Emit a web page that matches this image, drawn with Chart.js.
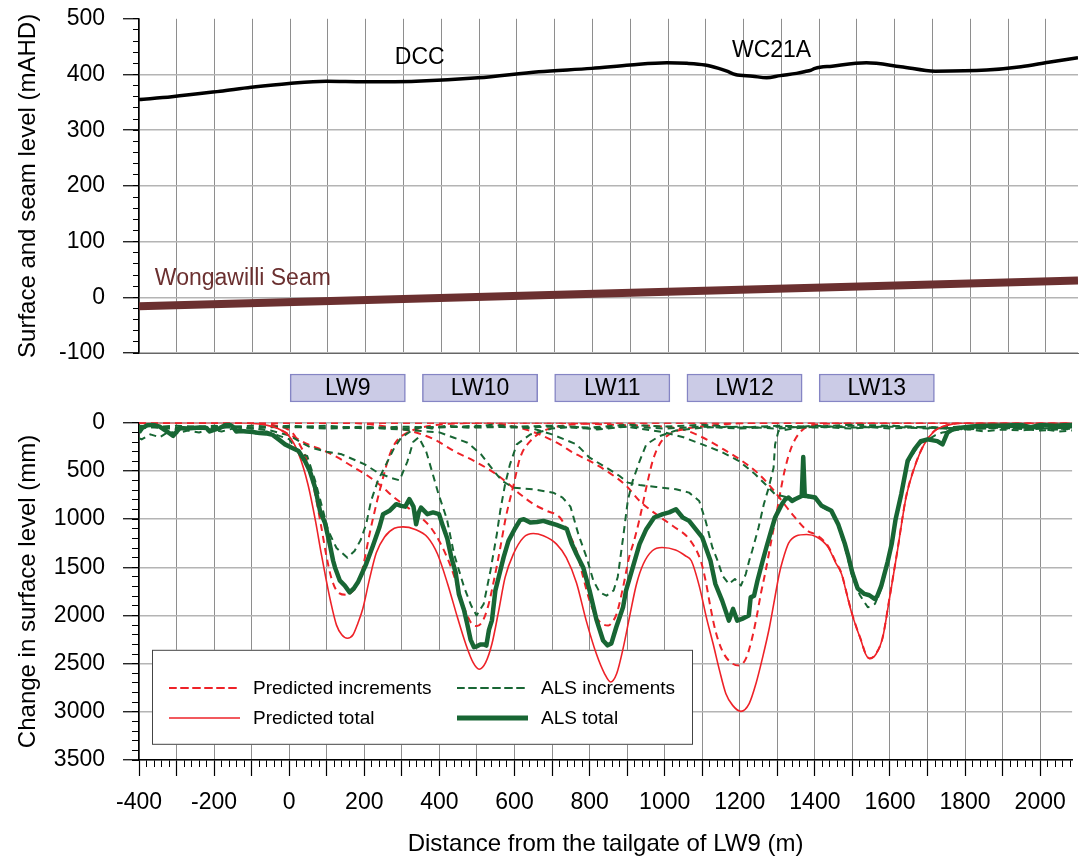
<!DOCTYPE html>
<html>
<head>
<meta charset="utf-8">
<title>Surface levels and subsidence along the LW9 line</title>
<script src="https://cdn.jsdelivr.net/npm/chart.js@4.4.1/dist/chart.umd.min.js"></script>
<style>
  body { margin: 0; background: #fff; }
  #wrap { position: relative; width: 1079px; height: 861px; overflow: hidden;
          font-family: 'Liberation Sans', Arial, Helvetica, sans-serif; }
  #wrap canvas { position: absolute; left: 0; }
  #legend { position: absolute; left: 152px; top: 650px; width: 541px; height: 95px; }
  #legend .item { position: absolute; height: 24px; display: flex; align-items: center;
                  font-size: 19px; color: #000; white-space: nowrap; }
  #legend svg { margin-right: 13px; }
</style>
</head>
<body>
<div id="wrap">
  <canvas id="levels" width="1079" height="398" style="top:-13px"></canvas>
  <canvas id="panels" width="1079" height="56" style="top:360px"></canvas>
  <canvas id="subs" width="1079" height="470" style="top:391px"></canvas>
  <div id="legend"></div>
</div>
<script>
// ---- data (distance m, value) ----
const xRange = [-400, 2085];

// surface and seam levels (mAHD)
const surface = [[-400,355],[-313,360],[-185,370],[-103,377],[-3,384],[96,388],[197,387],[333,388],[497,394],[658,405],[798,411],[900,417],[997,421],[1050,420],[1098,417],[1134,411],[1156,406],[1178,400],[1224,397],[1261,394],[1297,398],[1340,402],[1361,405],[1379,408],[1389,411],[1434,415],[1525,421],[1616,414],[1707,406],[1843,408],[1934,414],[2007,422],[2085,430]];
const seam = [[-400,-16],[2085,30]];

// longwall panels
const lwNames = ['LW9', 'LW10', 'LW11', 'LW12', 'LW13'];
const lwStart = [0, 350, 700, 1050, 1400];
const lwEnd = [305, 655, 1005, 1355, 1705];

// predicted subsidence (mm)
const predTotal = [[-400,0],[-150,0],[-100,5],[-60,25],[-30,60],[0,140],[25,320],[50,640],[70,1018],[85,1350],[97,1600],[110,1850],[126,2100],[140,2200],[155,2236],[170,2200],[183,2080],[196,1930],[214,1620],[232,1350],[254,1185],[280,1095],[303,1080],[334,1104],[369,1190],[395,1362],[422,1673],[448,2019],[470,2294],[490,2490],[506,2558],[523,2490],[540,2294],[558,1949],[575,1604],[597,1362],[624,1190],[650,1149],[677,1173],[712,1259],[738,1400],[765,1660],[791,2053],[818,2398],[840,2605],[856,2690],[872,2605],[890,2329],[908,1983],[925,1673],[943,1466],[967,1328],[993,1294],[1029,1320],[1055,1380],[1071,1432],[1093,1708],[1111,2019],[1129,2294],[1146,2570],[1163,2812],[1181,2933],[1203,2995],[1225,2915],[1243,2708],[1261,2432],[1279,2122],[1292,1846],[1305,1570],[1314,1432],[1330,1250],[1350,1175],[1378,1160],[1405,1185],[1435,1290],[1455,1450],[1471,1570],[1485,1780],[1497,1960],[1510,2120],[1522,2250],[1535,2400],[1546,2449],[1563,2400],[1580,2240],[1598,1840],[1610,1560],[1621,1300],[1632,1020],[1643,770],[1665,466],[1691,224],[1718,86],[1745,34],[1779,6],[1810,0],[2085,0]];
const predLW9 = [[-400,0],[-150,0],[-80,5],[-40,25],[-10,55],[10,110],[30,240],[50,420],[70,760],[85,1070],[100,1400],[113,1620],[130,1760],[152,1785],[175,1720],[190,1600],[198,1470],[214,1155],[232,845],[250,569],[268,327],[286,190],[314,104],[350,52],[404,17],[460,4],[520,0],[2085,0]];
const predLW10 = [[-400,0],[-150,0],[-80,10],[-40,40],[-10,100],[16,155],[51,224],[95,293],[130,362],[166,448],[210,552],[245,655],[280,776],[316,880],[351,983],[377,1087],[404,1259],[426,1450],[440,1600],[455,1800],[470,1960],[485,2080],[500,2110],[515,2060],[530,1900],[545,1640],[562,1300],[577,980],[598,638],[615,362],[642,190],[677,86],[721,34],[780,10],[850,0],[2085,0]];
const predLW11 = [[-400,0],[150,0],[200,10],[260,40],[324,86],[386,172],[439,293],[492,396],[545,517],[580,621],[615,741],[651,845],[686,914],[721,983],[745,1150],[765,1328],[783,1604],[800,1846],[818,2019],[835,2090],[850,2104],[862,2060],[872,1983],[889,1710],[905,1400],[918,1230],[933,1000],[951,673],[968,396],[986,224],[1012,120],[1048,69],[1109,34],[1200,5],[1260,0],[2085,0]];
const predLW12 = [[-400,0],[500,0],[600,40],[660,110],[721,224],[756,310],[800,396],[845,500],[898,655],[933,811],[977,948],[1021,1069],[1065,1207],[1096,1432],[1109,1639],[1122,1915],[1135,2156],[1153,2363],[1175,2484],[1198,2519],[1216,2450],[1229,2294],[1243,2053],[1256,1776],[1269,1535],[1285,1200],[1296,980],[1308,720],[1321,470],[1339,240],[1365,80],[1400,20],[1450,5],[1500,0],[2085,0]];
const predLW13 = [[-400,0],[700,0],[800,10],[900,25],[1000,40],[1050,70],[1100,150],[1150,260],[1200,380],[1250,530],[1290,700],[1340,950],[1380,1120],[1405,1165],[1435,1280],[1455,1440],[1471,1565],[1485,1775],[1497,1955],[1510,2115],[1522,2245],[1535,2395],[1546,2444],[1563,2395],[1580,2235],[1598,1835],[1610,1555],[1621,1295],[1632,1015],[1643,765],[1665,462],[1691,222],[1718,85],[1745,34],[1779,6],[1810,0],[2085,0]];

// measured (ALS) subsidence (mm)
const alsTotal = [[-400,100],[-392,55],[-378,25],[-362,21],[-345,40],[-326,90],[-309,135],[-291,55],[-272,60],[-256,55],[-238,48],[-220,55],[-212,90],[-198,70],[-185,55],[-163,10],[-150,40],[-141,90],[-128,85],[-114,90],[-96,95],[-79,107],[-62,110],[-44,125],[-28,172],[-11,224],[7,259],[25,293],[42,396],[55,500],[69,673],[82,914],[95,1035],[108,1259],[117,1432],[122,1501],[135,1639],[148,1690],[161,1760],[172,1720],[183,1656],[205,1466],[223,1276],[240,1087],[250,948],[267,914],[285,845],[298,862],[309,870],[320,793],[331,870],[338,1052],[345,930],[351,880],[368,948],[383,930],[399,948],[410,1080],[421,1200],[432,1400],[443,1550],[452,1780],[466,1950],[474,2087],[483,2250],[492,2329],[500,2320],[509,2301],[518,2300],[525,2312],[532,2150],[540,2050],[549,1742],[558,1600],[571,1397],[584,1226],[601,1100],[615,1010],[625,1000],[642,1035],[660,1030],[677,1018],[695,1040],[712,1060],[739,1100],[752,1250],[765,1362],[783,1501],[800,1742],[818,2040],[836,2260],[848,2310],[858,2290],[871,2122],[889,1915],[897,1742],[915,1501],[933,1259],[951,1104],[972,983],[995,948],[1012,930],[1030,897],[1048,983],[1065,1018],[1100,1190],[1122,1432],[1135,1673],[1153,1846],[1171,2053],[1182,1932],[1193,2053],[1206,2035],[1224,2001],[1229,1812],[1238,1794],[1247,1639],[1261,1432],[1272,1276],[1286,1087],[1294,983],[1303,914],[1312,845],[1321,793],[1330,776],[1339,811],[1347,793],[1365,759],[1369,355],[1373,759],[1378,759],[1401,776],[1418,862],[1444,914],[1462,1052],[1480,1259],[1490,1400],[1500,1560],[1514,1720],[1532,1776],[1545,1790],[1559,1828],[1566,1800],[1577,1690],[1594,1440],[1605,1250],[1615,1000],[1630,741],[1647,396],[1665,276],[1682,190],[1700,172],[1726,190],[1740,224],[1753,103],[1770,60],[1788,52],[1817,38],[1841,34],[1861,31],[1912,27],[1949,21],[1975,45],[1999,24],[2040,30],[2085,20]];
const alsLW9 = [[-400,160],[-393,172],[-370,120],[-345,150],[-320,90],[-300,110],[-270,80],[-240,100],[-210,70],[-180,90],[-150,60],[-120,80],[-90,110],[-60,90],[-30,130],[0,170],[26,315],[48,345],[69,600],[86,850],[104,1120],[126,1300],[155,1400],[174,1330],[190,1220],[205,1052],[218,810],[236,603],[258,431],[280,259],[298,155],[324,86],[353,40],[380,60],[420,30],[480,50],[540,20],[600,40],[700,30],[800,50],[900,20],[1000,40],[1100,20],[1200,50],[1300,30],[1400,40],[1500,20],[1600,30],[1700,50],[1800,40],[1900,60],[2000,50],[2085,70]];
const alsLW10 = [[-400,60],[-350,40],[-300,70],[-250,50],[-200,60],[-150,40],[-100,60],[-50,80],[0,130],[30,200],[59,259],[100,300],[140,327],[201,431],[236,517],[270,570],[294,597],[315,400],[330,200],[345,150],[365,300],[380,500],[397,731],[420,1000],[439,1362],[466,1708],[485,1900],[499,2000],[518,1880],[536,1535],[553,1155],[562,914],[575,638],[588,431],[606,224],[642,121],[700,60],[760,40],[820,70],[900,40],[1000,60],[1100,40],[1200,60],[1300,40],[1400,50],[1500,30],[1600,60],[1700,40],[1800,70],[1900,50],[2000,80],[2085,60]];
const alsLW11 = [[-400,40],[-300,60],[-200,30],[-100,50],[0,40],[100,60],[200,50],[300,70],[400,100],[439,155],[475,207],[511,327],[545,500],[567,603],[597,673],[650,690],[703,725],[728,776],[749,870],[770,1155],[792,1397],[810,1639],[827,1760],[845,1794],[864,1740],[875,1600],[889,1200],[902,800],[915,600],[933,400],[951,224],[986,138],[1030,80],[1100,50],[1200,40],[1300,60],[1400,30],[1500,50],[1600,40],[1700,60],[1800,50],[1900,40],[2000,60],[2085,50]];
const alsLW12 = [[-400,30],[-300,50],[-200,40],[-100,60],[0,30],[100,50],[200,40],[300,60],[400,40],[500,50],[600,40],[650,60],[700,120],[765,224],[800,362],[845,466],[880,552],[902,621],[933,645],[977,666],[1030,690],[1065,725],[1092,811],[1109,1018],[1127,1294],[1141,1432],[1154,1587],[1171,1673],[1187,1621],[1203,1690],[1216,1570],[1225,1432],[1233,1328],[1250,1087],[1264,845],[1277,673],[1290,466],[1294,224],[1303,86],[1340,60],[1400,40],[1500,60],[1600,30],[1700,50],[1800,70],[1900,40],[2000,60],[2085,50]];
const alsLW13 = [[-400,50],[-300,30],[-200,50],[-100,30],[0,50],[100,30],[200,60],[300,40],[400,50],[500,30],[600,50],[700,40],[800,60],[900,40],[1000,100],[1050,150],[1100,224],[1150,300],[1198,397],[1241,534],[1268,638],[1294,742],[1330,776],[1347,800],[1365,770],[1378,770],[1401,790],[1418,870],[1444,930],[1462,1070],[1480,1290],[1500,1600],[1520,1790],[1541,1915],[1560,1880],[1577,1720],[1594,1460],[1612,1080],[1630,760],[1647,420],[1665,300],[1682,210],[1700,180],[1720,130],[1740,100],[1770,80],[1800,60],[1850,90],[1900,70],[1950,80],[2000,60],[2050,90],[2085,80]];

// text placed on the level plot
const siteLabels = [
  { text: 'DCC', x: 343, y: 430, align: 'center', color: '#000' },
  { text: 'WC21A', x: 1274, y: 443, align: 'center', color: '#000' },
  { text: 'Wongawilli Seam', x: -358, y: 33, align: 'left', color: '#6b3030' }
];

// ---- styling ----
const fontFam = "'Liberation Sans', Arial, Helvetica, sans-serif";
Chart.defaults.font.family = fontFam;
Chart.defaults.color = '#000';

const RED = '#ee2228';
const GREEN = '#186634';
const GRID_V = '#8e8e8e';
const GRID_H = '#b4b4b4';

const pts = arr => arr.map(p => ({ x: p[0], y: p[1] }));
const fixW = w => s => { s.width = w; };
const fixH = h => s => { s.height = h; };
const plain = v => String(v);

function minorAxis(pos, min, max, step, len, reverse) {
  return {
    type: 'linear', position: pos, weight: 0, min: min, max: max, reverse: !!reverse,
    ticks: { display: false, stepSize: step, includeBounds: false },
    grid: { drawOnChartArea: false, tickLength: len, tickColor: '#000', tickWidth: 1 },
    border: { display: false },
    afterFit: pos === 'left' ? fixW(0) : fixH(0)
  };
}

// text labels drawn at data coordinates
const textLabels = {
  id: 'textLabels',
  afterDatasetsDraw(chart) {
    const { ctx } = chart;
    const x = chart.scales.x, y = chart.scales.y;
    ctx.save();
    ctx.font = '23px ' + fontFam;
    ctx.textBaseline = 'middle';
    siteLabels.forEach(l => {
      ctx.fillStyle = l.color;
      ctx.textAlign = l.align;
      ctx.fillText(l.text, x.getPixelForValue(l.x), y.getPixelForValue(l.y));
    });
    ctx.restore();
  }
};

// ---- top: surface and seam levels ----
new Chart(document.getElementById('levels'), {
  type: 'line',
  data: {
    datasets: [
      { label: 'Surface', data: pts(surface), borderColor: '#000', borderWidth: 3.5,
        pointRadius: 0, cubicInterpolationMode: 'monotone' },
      { label: 'Wongawilli Seam', data: pts(seam), borderColor: '#6b3030', borderWidth: 8,
        pointRadius: 0 }
    ]
  },
  options: {
    responsive: false,
    animation: false,
    layout: { padding: { top: 0, right: 1, left: 0, bottom: 0 } },
    plugins: { legend: { display: false }, tooltip: { enabled: false } },
    scales: {
      x: {
        type: 'linear', min: xRange[0], max: xRange[1],
        ticks: { display: false, stepSize: 100, includeBounds: false },
        grid: { color: GRID_V, lineWidth: 1, drawTicks: false },
        border: { color: '#666', width: 1 },
        afterFit: fixH(32)
      },
      y: {
        type: 'linear', position: 'left', weight: 1, min: -100, max: 500,
        ticks: { stepSize: 100, padding: 18, font: { size: 23 }, callback: plain },
        grid: { color: c => (c.tick && c.tick.value === 500) ? 'rgba(0,0,0,0)' : GRID_H,
                lineWidth: 1.5, tickLength: 16, tickColor: '#000', tickWidth: 1.2 },
        border: { color: '#000', width: 1.5 },
        title: { display: true, text: 'Surface and seam level (mAHD)', font: { size: 24 },
                 padding: { top: 14, bottom: 0 } },
        afterFit: fixW(139)
      },
      yMinor: minorAxis('left', -100, 500, 20, 6)
    }
  },
  plugins: [textLabels]
});

// ---- middle: longwall panel boxes ----
const panelText = {
  id: 'panelText',
  afterDatasetsDraw(chart) {
    const { ctx } = chart;
    const meta = chart.getDatasetMeta(0);
    ctx.save();
    ctx.font = '23px ' + fontFam;
    ctx.fillStyle = '#000';
    ctx.textAlign = 'center';
    ctx.textBaseline = 'middle';
    meta.data.forEach((bar, i) => {
      ctx.fillText(lwNames[i], (bar.x + bar.base) / 2, bar.y + 1);
    });
    ctx.restore();
  }
};

new Chart(document.getElementById('panels'), {
  type: 'bar',
  data: {
    datasets: [{
      label: 'Longwalls',
      data: lwNames.map((n, i) => ({ x: [lwStart[i], lwEnd[i]], y: 'LW' })),
      backgroundColor: '#cbcbe6',
      borderColor: '#8585c4',
      borderWidth: 1.5,
      borderSkipped: false,
      barThickness: 28
    }]
  },
  options: {
    indexAxis: 'y',
    responsive: false,
    animation: false,
    layout: { padding: { left: 139, right: 1, top: 0, bottom: 0 } },
    plugins: { legend: { display: false }, tooltip: { enabled: false } },
    scales: {
      x: { type: 'linear', min: xRange[0], max: xRange[1], display: false },
      y: { type: 'category', labels: ['LW'], display: false }
    }
  },
  plugins: [panelText]
});

// ---- bottom: change in surface level ----
const incStyle = (data, color, order) => ({
  data: pts(data), borderColor: color, borderWidth: 2, borderDash: [7, 5],
  pointRadius: 0, order: order, borderJoinStyle: 'round'
});

// white legend frame sits over the grid but under the lines
const legendFrame = {
  id: 'legendFrame',
  beforeDatasetsDraw(chart) {
    const { ctx, chartArea } = chart;
    const left = chartArea.left + 13, top = chartArea.top + 227;
    ctx.save();
    ctx.fillStyle = '#fff';
    ctx.fillRect(left, top, 541, 95);
    ctx.strokeStyle = '#444';
    ctx.lineWidth = 1;
    ctx.strokeRect(left + 0.5, top + 0.5, 540, 94);
    ctx.restore();
  }
};

new Chart(document.getElementById('subs'), {
  type: 'line',
  data: {
    datasets: [
      { label: 'ALS total', data: pts(alsTotal), borderColor: GREEN, borderWidth: 4.5,
        pointRadius: 0, order: 0, borderJoinStyle: 'round' },
      { label: 'Predicted total', data: pts(predTotal), borderColor: RED, borderWidth: 1.6,
        pointRadius: 0, order: 1, cubicInterpolationMode: 'monotone' },
      Object.assign({ label: 'ALS increments' }, incStyle(alsLW9, GREEN, 2)),
      Object.assign({ label: 'ALS LW10' }, incStyle(alsLW10, GREEN, 2)),
      Object.assign({ label: 'ALS LW11' }, incStyle(alsLW11, GREEN, 2)),
      Object.assign({ label: 'ALS LW12' }, incStyle(alsLW12, GREEN, 2)),
      Object.assign({ label: 'ALS LW13' }, incStyle(alsLW13, GREEN, 2)),
      Object.assign({ label: 'Predicted increments', cubicInterpolationMode: 'monotone' }, incStyle(predLW9, RED, 3)),
      Object.assign({ label: 'Predicted LW10', cubicInterpolationMode: 'monotone' }, incStyle(predLW10, RED, 3)),
      Object.assign({ label: 'Predicted LW11', cubicInterpolationMode: 'monotone' }, incStyle(predLW11, RED, 3)),
      Object.assign({ label: 'Predicted LW12', cubicInterpolationMode: 'monotone' }, incStyle(predLW12, RED, 3)),
      Object.assign({ label: 'Predicted LW13', cubicInterpolationMode: 'monotone' }, incStyle(predLW13, RED, 3))
    ]
  },
  options: {
    responsive: false,
    animation: false,
    layout: { padding: { top: 0, right: 1, left: 0, bottom: 0 } },
    plugins: { legend: { display: false }, tooltip: { enabled: false } },
    scales: {
      x: {
        type: 'linear', position: 'bottom', weight: 1, min: xRange[0], max: xRange[1],
        ticks: { stepSize: 100, includeBounds: false, autoSkip: false, maxRotation: 0,
                 padding: 13, font: { size: 23 },
                 callback: v => (v % 200 === 0 ? String(v) : '') },
        grid: { color: GRID_V, lineWidth: 1, tickLength: 16, tickColor: '#000', tickWidth: 1.2 },
        border: { color: '#000', width: 1.5 },
        title: { display: true, text: 'Distance from the tailgate of LW9 (m)', font: { size: 24 },
                 padding: { top: 0, bottom: 2 } },
        afterFit: fixH(101)
      },
      xMinor: minorAxis('bottom', xRange[0], xRange[1], 20, 7),
      y: {
        type: 'linear', position: 'left', weight: 1, reverse: true, min: 0, max: 3500,
        ticks: { stepSize: 500, padding: 18, font: { size: 23 }, callback: plain },
        grid: { color: GRID_H, lineWidth: 1.5, tickLength: 16, tickColor: '#000', tickWidth: 1.2 },
        border: { color: '#000', width: 1.5 },
        title: { display: true, text: 'Change in surface level (mm)', font: { size: 24 },
                 padding: { top: 14, bottom: 0 } },
        afterFit: fixW(139)
      },
      yMinor: minorAxis('left', 0, 3500, 100, 7, true)
    }
  },
  plugins: [legendFrame]
});

// ---- legend entries ----
const legendItems = [
  { text: 'Predicted increments', color: RED, width: 2, dash: '7 5', left: 17, top: 26 },
  { text: 'ALS increments', color: GREEN, width: 2, dash: '7 5', left: 305, top: 26 },
  { text: 'Predicted total', color: RED, width: 1.6, dash: '', left: 17, top: 56 },
  { text: 'ALS total', color: GREEN, width: 5, dash: '', left: 305, top: 56 }
];
const legend = document.getElementById('legend');
legendItems.forEach(it => {
  const d = document.createElement('div');
  d.className = 'item';
  d.style.left = it.left + 'px';
  d.style.top = it.top + 'px';
  d.innerHTML = '<svg width="71" height="10"><line x1="0" y1="5" x2="71" y2="5" stroke="' + it.color +
    '" stroke-width="' + it.width + '"' + (it.dash ? ' stroke-dasharray="' + it.dash + '"' : '') +
    ' stroke-linecap="round"/></svg><span>' + it.text + '</span>';
  legend.appendChild(d);
});
</script>
</body>
</html>
